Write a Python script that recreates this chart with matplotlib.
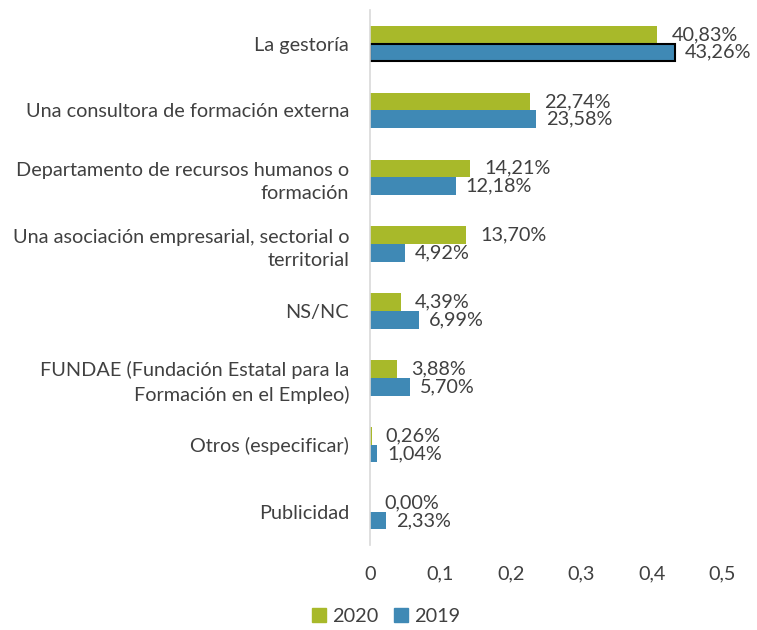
import matplotlib
matplotlib.use("Agg")
import matplotlib.pyplot as plt
from matplotlib.patches import Patch
from matplotlib.ticker import FuncFormatter

plt.rcParams['font.family'] = ['Lato', 'DejaVu Sans']

# Data
categorias = [
    "La gestoría",
    "Una consultora de formación externa",
    "Departamento de recursos humanos o\nformación",
    "Una asociación empresarial, sectorial o\nterritorial",
    "NS/NC",
    "FUNDAE (Fundación Estatal para la\nFormación en el Empleo)",
    "Otros (especificar)",
    "Publicidad",
]
valores_2020 = [0.4083, 0.2274, 0.1421, 0.1370, 0.0439, 0.0388, 0.0026, 0.0000]
valores_2019 = [0.4326, 0.2358, 0.1218, 0.0492, 0.0699, 0.0570, 0.0104, 0.0233]
ticks_x = [0, 0.1, 0.2, 0.3, 0.4, 0.5]

verde = "#A8B92A"
azul = "#3F89B5"
gris_texto = "#404040"
fs = 14.3

fig = plt.figure(figsize=(7.57, 6.30), dpi=100)
ax = fig.add_axes([0.4888, 0.135, 0.4650, 0.849])

h = 0.265
pos = list(range(len(categorias)))
b20 = ax.barh([p - h / 2 for p in pos], valores_2020, height=h, color=verde)
b19 = ax.barh([p + h / 2 for p in pos], valores_2019, height=h, color=azul)
# bar highlighted in the original
b19[0].set_edgecolor("black")
b19[0].set_linewidth(1.5)

def pct(v):
    return f"{v * 100:.2f}%".replace(".", ",")

for p, v in zip(pos, valores_2020):
    ax.annotate(pct(v), (v, p - h / 2), xytext=(10, 0), textcoords="offset points",
                ha="left", va="center", fontsize=fs, color=gris_texto)
for p, v in zip(pos, valores_2019):
    ax.annotate(pct(v), (v, p + h / 2), xytext=(7, 0), textcoords="offset points",
                ha="left", va="center", fontsize=fs, color=gris_texto)

ax.set_ylim(len(categorias) - 0.5, -0.5)
ax.set_xlim(0, 0.5)
ax.set_yticks(pos)
ax.set_yticklabels(categorias, fontsize=fs, color=gris_texto, multialignment="right",
                   linespacing=1.45)
ax.set_xticks(ticks_x)
ax.xaxis.set_major_formatter(FuncFormatter(lambda v, _: "0" if v == 0 else f"{v:g}".replace(".", ",")))
ax.tick_params(axis="x", length=0, pad=15, labelsize=fs, labelcolor=gris_texto)
ax.tick_params(axis="y", length=0, pad=15)

for s in ["top", "right", "bottom"]:
    ax.spines[s].set_visible(False)
ax.spines["left"].set_color("#D9D9D9")
ax.spines["left"].set_linewidth(1.2)

handles = [Patch(color=verde, label="2020"), Patch(color=azul, label="2019")]
fig.legend(handles=handles, loc="lower center", bbox_to_anchor=(0.51, -0.021), ncol=2,
           frameon=False, fontsize=fs, handlelength=0.7, handleheight=0.7,
           handletextpad=0.3, columnspacing=0.8, labelcolor=gris_texto)

fig.savefig("out.png", dpi=100)
